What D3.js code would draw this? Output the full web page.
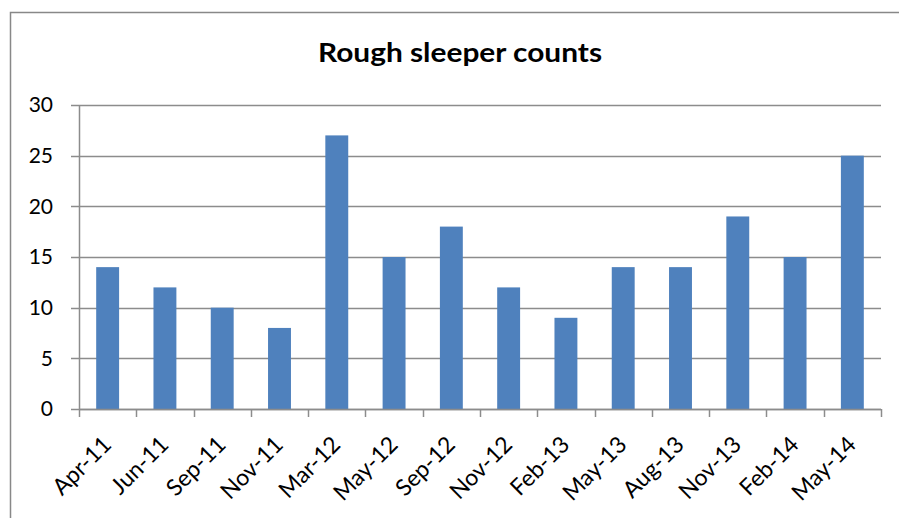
<!DOCTYPE html>
<html>
<head>
<meta charset="utf-8">
<script src="https://cdn.jsdelivr.net/npm/d3@7"></script>
<style>
  body { margin: 0; background: #fff; }
  svg { display: block; font-family: Lato, "Open Sans", sans-serif; }
</style>
</head>
<body>
<div id="chart"></div>
<script>
// Rough sleeper counts - column chart
const months = ['Apr-11', 'Jun-11', 'Sep-11', 'Nov-11', 'Mar-12', 'May-12', 'Sep-12',
    'Nov-12', 'Feb-13', 'May-13', 'Aug-13', 'Nov-13', 'Feb-14', 'May-14'];
const counts = [14, 12, 10, 8, 27, 15, 18, 12, 9, 14, 14, 19, 15, 25];
const yTicks = [0, 5, 10, 15, 20, 25, 30];

const width = 899;
const height = 518;
const plot = { left: 79, right: 881, top: 105, bottom: 409 };

const svg = d3.select('#chart')
    .append('svg')
    .attr('width', width)
    .attr('height', height);

// Chart border (right and bottom edges fall outside the picture)
svg.append('rect')
    .attr('x', 10.5)
    .attr('y', 12.5)
    .attr('width', 900)
    .attr('height', 520)
    .attr('fill', 'none')
    .attr('stroke', '#888')
    .attr('stroke-width', 1.5);

// Title
svg.append('text')
    .attr('x', 460)
    .attr('y', 62)
    .attr('text-anchor', 'middle')
    .attr('textLength', 284)
    .attr('lengthAdjust', 'spacingAndGlyphs')
    .style('font-size', '27px')
    .style('font-weight', '700')
    .style('fill', '#000')
    .text('Rough sleeper counts');

// Scales
const x = d3.scaleBand()
    .domain(months)
    .range([plot.left, plot.right])
    .paddingInner(0.6)
    .paddingOuter(0.3);

const y = d3.scaleLinear()
    .domain([0, 30])
    .range([plot.bottom, plot.top]);

// Gridlines + y labels
const yAxis = svg.append('g');
yAxis.selectAll('line')
    .data(yTicks)
    .enter()
    .append('line')
    .attr('x1', plot.left - 8)
    .attr('x2', plot.right)
    .attr('y1', d => Math.round(y(d)) + 0.5)
    .attr('y2', d => Math.round(y(d)) + 0.5)
    .attr('stroke', '#8c8c8c')
    .attr('stroke-width', 1.5);

yAxis.selectAll('text')
    .data(yTicks)
    .enter()
    .append('text')
    .attr('x', plot.left - 26)
    .attr('y', d => y(d))
    .attr('dy', '0.35em')
    .attr('text-anchor', 'end')
    .style('font-size', '21px')
    .style('fill', '#000')
    .text(d => d);

// Bars
svg.selectAll('.bar')
    .data(counts)
    .enter()
    .append('rect')
    .attr('class', 'bar')
    .attr('x', (d, i) => x(months[i]))
    .attr('y', d => y(d))
    .attr('width', x.bandwidth())
    .attr('height', d => y(0) - y(d))
    .attr('fill', '#4f81bd');

// Y axis line
svg.append('line')
    .attr('x1', plot.left + 0.5)
    .attr('x2', plot.left + 0.5)
    .attr('y1', plot.top)
    .attr('y2', plot.bottom)
    .attr('stroke', '#8c8c8c')
    .attr('stroke-width', 1.5);

// X axis line and ticks at category boundaries
const boundaries = d3.range(months.length + 1).map(i => plot.left + i * (plot.right - plot.left) / months.length);
svg.append('line')
    .attr('x1', plot.left)
    .attr('x2', plot.right)
    .attr('y1', plot.bottom + 0.5)
    .attr('y2', plot.bottom + 0.5)
    .attr('stroke', '#8c8c8c')
    .attr('stroke-width', 1.5);

svg.selectAll('.xtick')
    .data(boundaries)
    .enter()
    .append('line')
    .attr('x1', d => Math.round(d) + 0.5)
    .attr('x2', d => Math.round(d) + 0.5)
    .attr('y1', plot.bottom)
    .attr('y2', plot.bottom + 8)
    .attr('stroke', '#8c8c8c')
    .attr('stroke-width', 1.5);

// X labels, rotated
svg.selectAll('.xlabel')
    .data(months)
    .enter()
    .append('text')
    .attr('text-anchor', 'end')
    .attr('transform', d => `translate(${x(d) + x.bandwidth() / 2 + 5}, ${plot.bottom + 37}) rotate(-45)`)
    .style('font-size', '23px')
    .style('fill', '#000')
    .text(d => d);
</script>
</body>
</html>
